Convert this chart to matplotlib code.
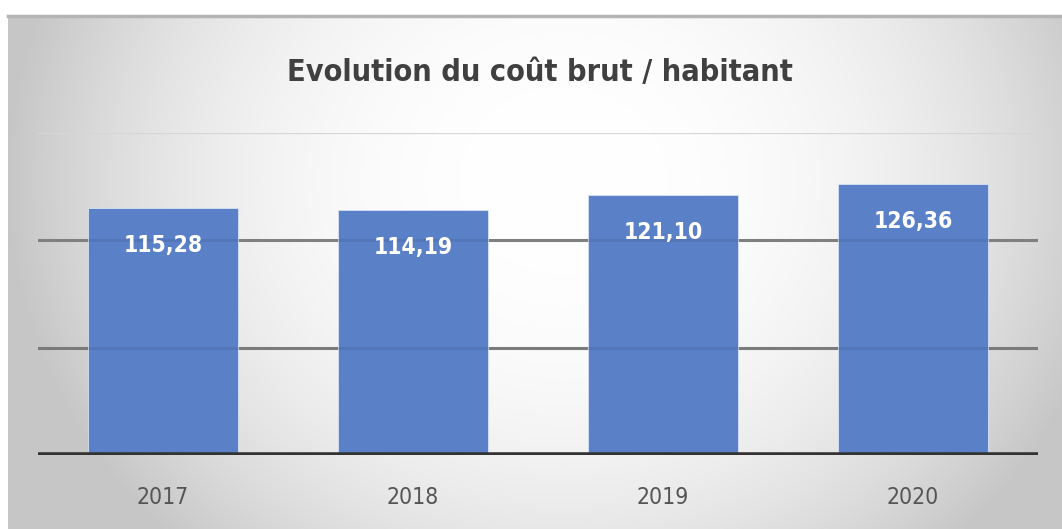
import matplotlib.pyplot as plt
import numpy as np

# data
years = ['2017', '2018', '2019', '2020']
cout_brut = [115.28, 114.19, 121.10, 126.36]
value_labels = ['115,28', '114,19', '121,10', '126,36']

W, H = 1062, 529
narrow = dict(family='DejaVu Sans', stretch='condensed')

fig = plt.figure(figsize=(W / 100, H / 100), dpi=100)

# gradient background (white in the middle, grey towards the edges)
bg = fig.add_axes([0, 0, 1, 1], zorder=-5)
xx, yy = np.meshgrid(np.linspace(0, W, 400), np.linspace(0, H, 200))
r = np.sqrt(((xx - 560) / 560) ** 2 + ((yy - 170) / 520) ** 2)
shade = 1.0 - 0.22 * np.clip(r, 0, 1.0) ** 2.4
bg.imshow(np.dstack([shade, shade, shade]), extent=[8, W, H, 15], aspect='auto')
bg.plot([8, W], [16, 16], color='#b4b4b4', lw=2.5)
bg.set_xlim(0, W)
bg.set_ylim(H, 0)
bg.axis('off')

ax = fig.add_axes([38 / W, 74 / H, 1000 / W, 322 / H])
ax.patch.set_visible(False)
x = np.arange(len(years))
bars = ax.bar(x, cout_brut, width=0.6, color='#5a80c8', edgecolor='#d8e2f4',
              linewidth=0.6, zorder=3)

ax.set_xlim(-0.5, len(years) - 0.5)
ax.set_ylim(0, 150)
for val, col, lw in [(50, '#858585', 2.2), (100, '#8a8a8a', 2.2), (150, '#d6d6d6', 1.6)]:
    ax.axhline(val, color=col, lw=lw, zorder=1)
    if val < 150:
        ax.axhline(val, color='black', alpha=0.07, lw=lw, zorder=3.5)
ax.axhline(0, color='#333333', lw=4, zorder=4)

for b, lab in zip(bars, value_labels):
    ax.annotate(lab, (b.get_x() + b.get_width() / 2, b.get_height()),
                xytext=(0, -27), textcoords='offset points', ha='center', va='center',
                color='white', fontsize=16.5, fontweight='bold', zorder=5, **narrow)

ax.set_xticks(x)
ax.set_xticklabels(years, fontsize=16.5, color='#555555', **narrow)
ax.tick_params(axis='x', length=0, pad=22)
ax.set_yticks([])
for s in ax.spines.values():
    s.set_visible(False)

fig.text(540 / W, 1 - 72 / H, 'Evolution du coût brut / habitant', ha='center', va='center',
         fontsize=22, fontweight='bold', color='#404040', **narrow)

fig.savefig('out.png', dpi=100)
